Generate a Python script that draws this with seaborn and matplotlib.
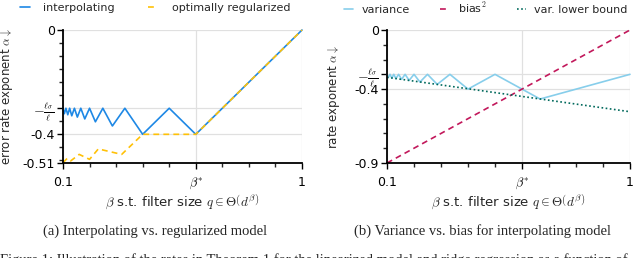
import numpy as np
import pandas as pd
import matplotlib
matplotlib.use("Agg")
import matplotlib.pyplot as plt
import seaborn as sns
from matplotlib.ticker import MultipleLocator

sns.set_theme(style="ticks")
plt.rcParams['font.family'] = ['DejaVu Sans']
plt.rcParams['mathtext.fontset'] = 'cm'
plt.rcParams['axes.unicode_minus'] = False

# ---------------- data ----------------
beta_var = [0.1, 0.105, 0.111, 0.118, 0.125, 0.133, 0.143, 0.154, 0.167, 0.182,
            0.2, 0.222, 0.25, 0.286, 0.333, 0.4, 0.5, 0.667, 1.0]
variance = [-0.30, -0.321, -0.30, -0.325, -0.30, -0.329, -0.30, -0.334, -0.30, -0.341,
            -0.30, -0.352, -0.30, -0.368, -0.30, -0.40, -0.30, -0.467, -0.30]

beta_interp = [0.1, 0.105, 0.111, 0.118, 0.125, 0.133, 0.143, 0.154, 0.167, 0.182,
               0.2, 0.222, 0.25, 0.286, 0.333, 0.4, 0.5, 0.6, 1.0]
interpolating = [-0.30, -0.321, -0.30, -0.325, -0.30, -0.329, -0.30, -0.334, -0.30, -0.341,
                 -0.30, -0.352, -0.30, -0.368, -0.30, -0.40, -0.30, -0.40, 0.0]

beta_reg = [0.1, 0.116, 0.129, 0.161, 0.2, 0.233, 0.321, 0.4, 0.6, 1.0]
regularized = [-0.509, -0.492, -0.502, -0.477, -0.496, -0.456, -0.477, -0.40, -0.40, 0.0]

beta_bias = [0.1, 1.0]
bias_sq = [-0.9, 0.0]

beta_lb = [0.1, 1.0]
var_lower = [-0.32, -0.553]

xticks = [0.1, 0.6, 1.0]
xticklabels = ["0.1", r"$\beta^{*}$", "1"]
yticks_a = [0.0, -0.3, -0.4, -0.51]
yticklabels_a = ["0", r"$-\frac{\ell_\sigma}{\ell}$", "-0.4", "-0.51"]
yticks_b = [0.0, -0.3, -0.4, -0.9]
yticklabels_b = ["0", r"$-\frac{\ell_\sigma}{\ell}$", "-0.4", "-0.9"]

# ---------------- figure ----------------
W, H = 640, 258
fig = plt.figure(figsize=(W / 100, H / 100), dpi=100)

def px_axes(x0, x1, y0, y1):
    return fig.add_axes([x0 / W, 1 - y1 / H, (x1 - x0) / W, (y1 - y0) / H])

ax1 = px_axes(63, 302, 30, 163)
ax2 = px_axes(387, 630, 30, 163)

c_interp = "#1e88e5"
c_reg = "#ffc107"
c_var = "#87ceeb"
c_bias = "#c2185b"
c_lb = "#00695c"

lw = 1.2
sns.lineplot(x=beta_interp, y=interpolating, ax=ax1, color=c_interp, lw=lw,
             label="interpolating", sort=False, clip_on=False)
sns.lineplot(x=beta_reg, y=regularized, ax=ax1, color=c_reg, lw=lw,
             linestyle=(0, (3.5, 2.5)), label="optimally regularized", sort=False, clip_on=False)

sns.lineplot(x=beta_var, y=variance, ax=ax2, color=c_var, lw=lw,
             label="variance", sort=False, clip_on=False)
sns.lineplot(x=beta_bias, y=bias_sq, ax=ax2, color=c_bias, lw=lw,
             linestyle=(0, (3.5, 2.5)), label="bias$^2$", sort=False, clip_on=False)
sns.lineplot(x=beta_lb, y=var_lower, ax=ax2, color=c_lb, lw=lw,
             linestyle=(0, (1, 1.5)), label="var. lower bound", sort=False, clip_on=False)

fs = 8.5
for ax, yt, ytl, ymin, yminor, ylab, lx in [
        (ax1, yticks_a, yticklabels_a, -0.51, 0.05, r"error rate exponent $\alpha\downarrow$", -0.20),
        (ax2, yticks_b, yticklabels_b, -0.9, 0.1, r"rate exponent $\alpha\downarrow$", -0.185)]:
    ax.set_xlim(0.1, 1.0)
    ax.set_ylim(ymin, 0.0)
    ax.set_xticks(xticks)
    ax.set_xticklabels(xticklabels, fontsize=fs + 0.5)
    ax.set_yticks(yt)
    ax.set_yticklabels(ytl, fontsize=fs + 0.5)
    for lab in ax.get_yticklabels():
        if "ell" in lab.get_text():
            lab.set_fontsize(10)
    ax.xaxis.set_minor_locator(MultipleLocator(0.1))
    ax.yaxis.set_minor_locator(MultipleLocator(yminor))
    ax.tick_params(which='major', direction='out', length=4, width=1.0, pad=2, colors='black')
    ax.tick_params(axis='x', which='major', pad=5)
    ax.tick_params(which='minor', direction='out', length=3, width=1.0)
    ax.grid(True, which='major', color='#e0e0e0', lw=0.9)
    ax.set_axisbelow(True)
    for s in ['top', 'right']:
        ax.spines[s].set_visible(False)
    for s in ['left', 'bottom']:
        ax.spines[s].set_linewidth(1.3)
        ax.spines[s].set_color('black')
    ax.set_xlabel(r"$\beta$ s.t. filter size $q \in \Theta\left(d^{\beta}\right)$", fontsize=fs + 1)
    ax.xaxis.set_label_coords(0.5, -0.225)
    ax.set_ylabel(ylab, fontsize=fs)
    ax.yaxis.set_label_coords(lx, 0.5)
    ax.get_legend().remove()

lfs = 8
h1, l1 = ax1.get_legend_handles_labels()
fig.legend(h1, l1, loc='center', bbox_to_anchor=(155 / W, 1 - 8 / H), ncol=2, frameon=False,
           fontsize=lfs, handlelength=0.9, handletextpad=1.2, columnspacing=3.0,
           borderaxespad=0, borderpad=0)
h2, l2 = ax2.get_legend_handles_labels()
fig.legend(h2, l2, loc='center', bbox_to_anchor=(486 / W, 1 - 8 / H), ncol=3, frameon=False,
           fontsize=lfs, handlelength=0.8, handletextpad=0.8, columnspacing=2.7,
           borderaxespad=0, borderpad=0)

serif = ['Liberation Serif', 'DejaVu Serif']
fig.text(155 / W, 1 - 231 / H, "(a) Interpolating vs. regularized model", ha='center', va='center',
         fontsize=10.5, family=serif)
fig.text(482 / W, 1 - 231 / H, "(b) Variance vs. bias for interpolating model", ha='center', va='center',
         fontsize=10.5, family=serif)
fig.text(0.0, 1 - 260 / H,
         "Figure 1: Illustration of the rates in Theorem 1 for the linearized model and ridge regression as a function of",
         ha='left', va='center', fontsize=10.5, family=serif)

fig.savefig("out.png", dpi=100)
